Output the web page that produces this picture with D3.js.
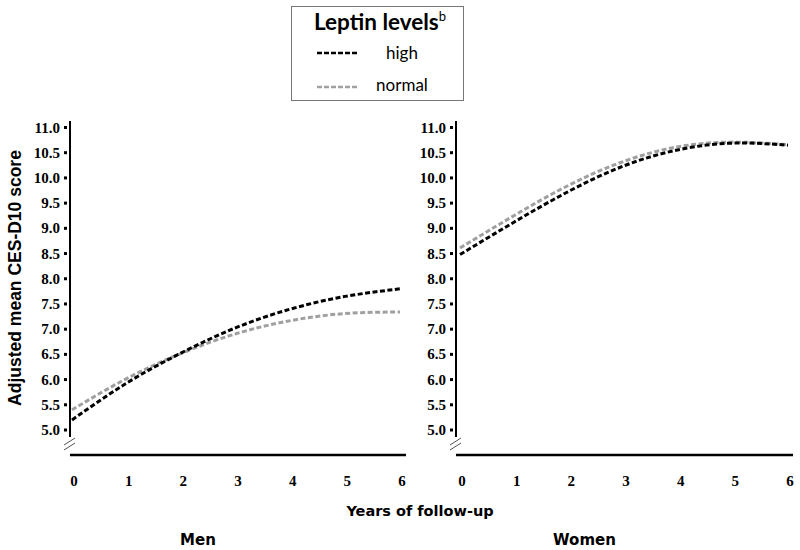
<!DOCTYPE html>
<html>
<head>
<meta charset="utf-8">
<script src="https://cdn.jsdelivr.net/npm/d3@7"></script>
<style>
  body { margin: 0; background: #fff; }
  svg { display: block; }
</style>
</head>
<body>
<svg id="chart" width="800" height="550"></svg>
<script>
const years = [0, 1, 2, 3, 4, 5, 6];
const yTicks = [5.0, 5.5, 6.0, 6.5, 7.0, 7.5, 8.0, 8.5, 9.0, 9.5, 10.0, 10.5, 11.0];

// adjusted mean CES-D10 by year
const menHigh     = [5.20, 5.93, 6.53, 7.03, 7.40, 7.65, 7.80];
const menNormal   = [5.40, 6.02, 6.52, 6.91, 7.17, 7.31, 7.34];
const womenHigh   = [8.48, 9.13, 9.74, 10.24, 10.56, 10.69, 10.65];
const womenNormal = [8.61, 9.26, 9.86, 10.33, 10.62, 10.71, 10.66];

const panels = [
  { name: "Men",   high: menHigh,   normal: menNormal,   axisX: 70,  x0: 72,  x1: 400, lineEnd: 406 },
  { name: "Women", high: womenHigh, normal: womenNormal, axisX: 456, x0: 460, x1: 788, lineEnd: 793 }
];

const svg = d3.select("#chart");

const y = d3.scaleLinear().domain([5, 11]).range([430, 127.5]);

const serif = "'Liberation Serif', 'Times New Roman', serif";
const sansB = "'DejaVu Sans', Verdana, sans-serif";

panels.forEach(function(p) {
  const x = d3.scaleLinear().domain([0, 6]).range([p.x0, p.x1]);
  const g = svg.append("g");

  // vertical axis
  g.append("line")
    .attr("x1", p.axisX).attr("x2", p.axisX)
    .attr("y1", 121).attr("y2", 437)
    .attr("stroke", "#000").attr("stroke-width", 2);

  // tick squares + labels
  g.selectAll("rect.tk").data(yTicks).enter().append("rect")
    .attr("x", p.axisX - 6).attr("y", function(d) { return y(d) - 1.5; })
    .attr("width", 3).attr("height", 3).attr("fill", "#000");
  g.selectAll("text.yl").data(yTicks).enter().append("text")
    .attr("x", p.axisX - 10).attr("y", function(d) { return y(d) + 5; })
    .attr("text-anchor", "end")
    .attr("font-family", serif).attr("font-weight", "bold").attr("font-size", 15)
    .text(function(d) { return d.toFixed(1); });

  // axis break marks
  [0, 5].forEach(function(o) {
    g.append("line")
      .attr("x1", p.axisX - 6).attr("y1", 445 + o)
      .attr("x2", p.axisX + 5).attr("y2", 438 + o)
      .attr("stroke", "#555").attr("stroke-width", 1);
  });

  // horizontal axis
  g.append("line")
    .attr("x1", p.axisX).attr("x2", p.lineEnd)
    .attr("y1", 455).attr("y2", 455)
    .attr("stroke", "#000").attr("stroke-width", 2.5);

  g.selectAll("text.xl").data(years).enter().append("text")
    .attr("x", function(d) { return x(d) + 2; }).attr("y", 486)
    .attr("text-anchor", "middle")
    .attr("font-family", serif).attr("font-weight", "bold").attr("font-size", 15)
    .text(function(d) { return d; });

  const line = d3.line()
    .x(function(d, i) { return x(years[i]); })
    .y(function(d) { return y(d); })
    .curve(d3.curveNatural);

  g.append("path").datum(p.normal)
    .attr("d", line).attr("fill", "none")
    .attr("stroke", "#a0a0a0").attr("stroke-width", 3)
    .attr("stroke-dasharray", "5,2.5");
  g.append("path").datum(p.high)
    .attr("d", line).attr("fill", "none")
    .attr("stroke", "#000").attr("stroke-width", 3)
    .attr("stroke-dasharray", "5,2.5");

  svg.append("text")
    .attr("x", (p.axisX + p.lineEnd) / 2 - 40).attr("y", 545)
    .attr("text-anchor", "middle")
    .attr("font-family", sansB).attr("font-weight", "bold").attr("font-size", 15)
    .text(p.name);
});

svg.append("text")
  .attr("x", 420).attr("y", 516)
  .attr("text-anchor", "middle")
  .attr("font-family", sansB).attr("font-weight", "bold").attr("font-size", 14.5)
  .text("Years of follow-up");

svg.append("text")
  .attr("transform", "translate(21,278) rotate(-90)")
  .attr("text-anchor", "middle")
  .attr("font-family", "'Liberation Sans', Arial, sans-serif")
  .attr("font-weight", "bold").attr("font-size", 17.5)
  .text("Adjusted mean CES-D10 score");

// legend
const lg = svg.append("g");
lg.append("rect")
  .attr("x", 291.5).attr("y", 6.5).attr("width", 172).attr("height", 94)
  .attr("fill", "#fff").attr("stroke", "#777").attr("stroke-width", 1);
const title = lg.append("text")
  .attr("x", 380).attr("y", 30)
  .attr("text-anchor", "middle")
  .attr("font-family", "Lato, 'Open Sans', sans-serif").attr("font-size", 22.5);
title.append("tspan").attr("font-weight", "bold").text("Leptin levels");
title.append("tspan").attr("font-size", 13).attr("dy", -9).text("b");

const legendItems = [
  { label: "high",   color: "#000",    y: 53, ty: 59 },
  { label: "normal", color: "#a0a0a0", y: 87, ty: 91 }
];
legendItems.forEach(function(d) {
  lg.append("line")
    .attr("x1", 317).attr("x2", 359).attr("y1", d.y).attr("y2", d.y)
    .attr("stroke", d.color).attr("stroke-width", 2.5)
    .attr("stroke-dasharray", "5,2");
  lg.append("text")
    .attr("x", 402).attr("y", d.ty)
    .attr("text-anchor", "middle")
    .attr("font-family", "Lato, 'Open Sans', sans-serif").attr("font-size", 17)
    .text(d.label);
});
</script>
</body>
</html>
